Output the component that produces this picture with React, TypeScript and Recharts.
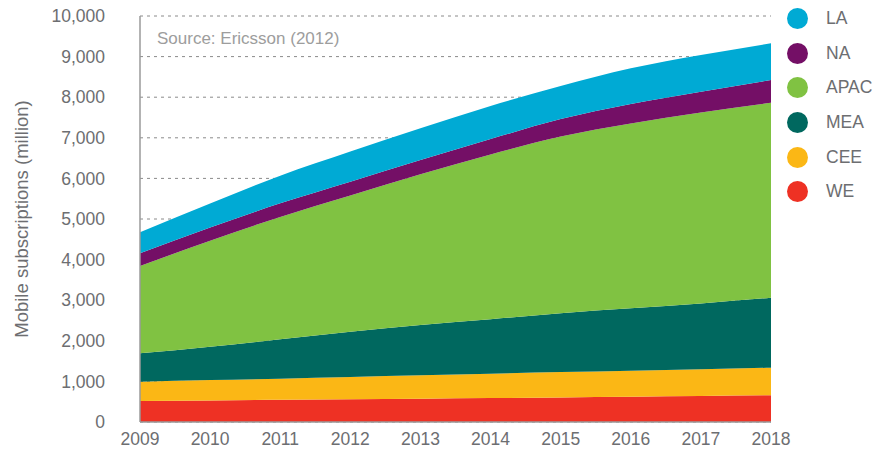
import { AreaChart, Area, XAxis, YAxis, CartesianGrid, Label } from 'recharts'

const years = ['2009', '2010', '2011', '2012', '2013', '2014', '2015', '2016', '2017', '2018']

// million subscriptions per region
const we = [517, 530, 545, 560, 575, 590, 605, 622, 640, 660]
const cee = [476, 504, 522, 548, 575, 600, 627, 642, 658, 678]
const mea = [699, 821, 969, 1117, 1240, 1340, 1448, 1536, 1622, 1722]
const apac = [2150, 2610, 3014, 3355, 3713, 4060, 4350, 4553, 4701, 4804]
const na = [313, 325, 335, 340, 350, 380, 430, 480, 515, 560]
const la = [517, 590, 680, 740, 780, 813, 816, 878, 903, 903]

const yTicks = [0, 1000, 2000, 3000, 4000, 5000, 6000, 7000, 8000, 9000, 10000]

const regions = [
  { key: 'WE', values: we, color: '#ee3124' },
  { key: 'CEE', values: cee, color: '#fbb715' },
  { key: 'MEA', values: mea, color: '#00685f' },
  { key: 'APAC', values: apac, color: '#80c242' },
  { key: 'NA', values: na, color: '#740f66' },
  { key: 'LA', values: la, color: '#00aad4' },
]

const data = years.map((year, i) => {
  const row: Record<string, string | number> = { year }
  regions.forEach((r) => {
    row[r.key] = r.values[i]
  })
  return row
})

const font = '"Liberation Sans", Arial, Helvetica, sans-serif'
const grey = '#6d6e71'

function RegionLegend() {
  // legend lists top series first
  const items = [...regions].reverse()
  return (
    <div style={{ position: 'absolute', left: 787, top: 1, fontFamily: font }}>
      {items.map((r) => (
        <div
          key={r.key}
          style={{ display: 'flex', alignItems: 'center', height: 34.7 }}
        >
          <span
            style={{
              width: 21,
              height: 21,
              borderRadius: '50%',
              background: r.color,
              display: 'inline-block',
              marginRight: 18,
            }}
          />
          <span style={{ color: grey, fontSize: 17.5 }}>{r.key}</span>
        </div>
      ))}
    </div>
  )
}

export default function App() {
  return (
    <div style={{ position: 'absolute', left: 0, top: 0, width: 885, height: 450, background: '#fff' }}>
      <AreaChart
        width={885}
        height={450}
        data={data}
        margin={{ top: 16, right: 114, bottom: 0, left: 0 }}
        style={{ fontFamily: font }}
      >
        <CartesianGrid vertical={false} stroke="#8a8a8a" strokeDasharray="3 4" />
        <XAxis
          dataKey="year"
          height={28}
          tickLine={false}
          tickSize={0}
          tickMargin={11}
          axisLine={{ stroke: '#9a9a9a', strokeWidth: 1.5 }}
          tick={{ fill: grey, fontSize: 17.5 }}
          interval={0}
        />
        <YAxis
          width={140}
          domain={[0, 10000]}
          ticks={yTicks}
          interval={0}
          tickLine={false}
          tickSize={0}
          tickMargin={35}
          axisLine={{ stroke: '#9a9a9a', strokeWidth: 1.5 }}
          tick={{ fill: grey, fontSize: 17.5 }}
          tickFormatter={(v: number) => v.toLocaleString('en-US')}
        >
          <Label
            content={() => (
              <text
                x={21}
                y={219}
                transform="rotate(-90 21 219)"
                textAnchor="middle"
                dominantBaseline="central"
                fill={grey}
                fontSize={18.5}
                fontFamily={font}
              >
                Mobile subscriptions (million)
              </text>
            )}
          />
        </YAxis>
        {regions.map((r) => (
          <Area
            key={r.key}
            type="monotone"
            dataKey={r.key}
            stackId="1"
            stroke="none"
            fill={r.color}
            fillOpacity={1}
            isAnimationActive={false}
          />
        ))}
      </AreaChart>
      <RegionLegend />
      <div
        style={{
          position: 'absolute',
          left: 157,
          top: 29,
          fontFamily: font,
          fontSize: 17,
          color: '#9d9d9d',
          lineHeight: '20px',
        }}
      >
        Source: Ericsson (2012)
      </div>
    </div>
  )
}
